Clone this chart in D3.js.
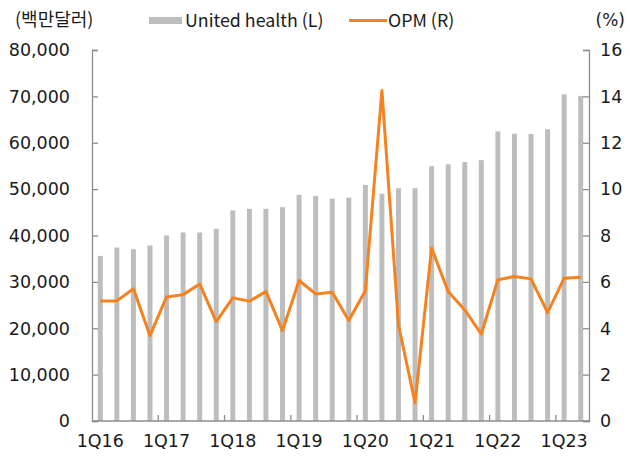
<!DOCTYPE html>
<html>
<head>
<meta charset="utf-8">
<script src="https://cdn.jsdelivr.net/npm/d3@7"></script>
<style>
  body { margin: 0; background: #fff; }
  text { font-family: "Noto Sans CJK KR", "Noto Sans", sans-serif; fill: #1a1a1a; }
  text.num { font-family: "DejaVu Sans", sans-serif; }
</style>
</head>
<body>
<div id="chart"></div>
<script>
// quarters 1Q16 .. 2Q23
const quarters = [
  "1Q16","2Q16","3Q16","4Q16","1Q17","2Q17","3Q17","4Q17",
  "1Q18","2Q18","3Q18","4Q18","1Q19","2Q19","3Q19","4Q19",
  "1Q20","2Q20","3Q20","4Q20","1Q21","2Q21","3Q21","4Q21",
  "1Q22","2Q22","3Q22","4Q22","1Q23","2Q23"
];
// revenue, USD mn (left axis)
const revenue = [
  35600, 37400, 37050, 37850, 40000, 40650, 40650, 41450,
  45400, 45750, 45750, 46100, 48750, 48500, 47950, 48150,
  50900, 49000, 50200, 50200, 54950, 55350, 55850, 56250,
  62450, 61950, 61900, 62900, 70450, 70100
];
// operating margin, % (right axis)
const opm = [
  5.18, 5.18, 5.70, 3.68, 5.35, 5.45, 5.91, 4.29,
  5.31, 5.17, 5.58, 3.90, 6.06, 5.48, 5.55, 4.33,
  5.62, 14.25, 4.14, 0.79, 7.45, 5.58, 4.79, 3.75,
  6.09, 6.23, 6.13, 4.67, 6.16, 6.20
];
const leftTicks = [0, 10000, 20000, 30000, 40000, 50000, 60000, 70000, 80000];
const rightTicks = [0, 2, 4, 6, 8, 10, 12, 14, 16];

const width = 630, height = 456;
const margin = { top: 50, right: 41, bottom: 35, left: 92 };
const axisColor = "#8c8c8c";
const barColor = "#bdbdbd";
const lineColor = "#f5821f";

const svg = d3.select("#chart").append("svg")
  .attr("width", width)
  .attr("height", height);

const x = d3.scaleBand()
  .domain(quarters)
  .range([margin.left, width - margin.right])
  .paddingInner(0.7)
  .paddingOuter(0.35);

const yL = d3.scaleLinear().domain([0, 80000]).range([height - margin.bottom, margin.top]);
const yR = d3.scaleLinear().domain([0, 16]).range([height - margin.bottom, margin.top]);

// bars
svg.append("g")
  .selectAll("rect")
  .data(quarters)
  .join("rect")
  .attr("x", d => x(d))
  .attr("width", x.bandwidth())
  .attr("y", (d, i) => yL(revenue[i]))
  .attr("height", (d, i) => yL(0) - yL(revenue[i]))
  .attr("fill", barColor);

// line
const line = d3.line()
  .x((d, i) => x(quarters[i]) + x.bandwidth() / 2)
  .y(d => yR(d));

svg.append("path")
  .datum(opm)
  .attr("d", line)
  .attr("fill", "none")
  .attr("stroke", lineColor)
  .attr("stroke-width", 3)
  .attr("stroke-linejoin", "round");

// y axes, ticks pointing inward
const gL = svg.append("g")
  .attr("transform", `translate(${margin.left},0)`)
  .call(d3.axisRight(yL).tickValues(leftTicks).tickSize(6).tickFormat(""));
const gR = svg.append("g")
  .attr("transform", `translate(${width - margin.right},0)`)
  .call(d3.axisLeft(yR).tickValues(rightTicks).tickSize(6).tickFormat(""));
[gL, gR].forEach(g => {
  g.select(".domain").attr("stroke", axisColor).attr("stroke-width", 1.3);
  g.selectAll(".tick line").attr("stroke", axisColor).attr("stroke-width", 1.3);
});

svg.append("g")
  .selectAll("text")
  .data(leftTicks)
  .join("text")
  .attr("class", "num")
  .attr("x", 70)
  .attr("y", d => yL(d))
  .attr("dy", "0.36em")
  .attr("text-anchor", "end")
  .attr("font-size", 17.5)
  .text(d => d3.format(",")(d));

svg.append("g")
  .selectAll("text")
  .data(rightTicks)
  .join("text")
  .attr("class", "num")
  .attr("x", 600)
  .attr("y", d => yR(d))
  .attr("dy", "0.36em")
  .attr("text-anchor", "start")
  .attr("font-size", 17.5)
  .text(d => d);

// bottom axis: ticks between categories every 4 quarters
const step = x.step();
const x0 = margin.left;
const bottomY = height - margin.bottom;
svg.append("line")
  .attr("x1", margin.left).attr("x2", width - margin.right)
  .attr("y1", bottomY).attr("y2", bottomY)
  .attr("stroke", axisColor).attr("stroke-width", 1.3);

const tickIdx = d3.range(4, quarters.length, 4);
svg.append("g")
  .selectAll("line")
  .data(tickIdx)
  .join("line")
  .attr("x1", i => x0 + i * step)
  .attr("x2", i => x0 + i * step)
  .attr("y1", bottomY)
  .attr("y2", bottomY - 6)
  .attr("stroke", axisColor)
  .attr("stroke-width", 1.3);

svg.append("g")
  .selectAll("text")
  .data(quarters.filter((q, i) => i % 4 === 0))
  .join("text")
  .attr("class", "num")
  .attr("x", d => x(d) + x.bandwidth() / 2)
  .attr("y", bottomY + 26)
  .attr("text-anchor", "middle")
  .attr("font-size", 17.5)
  .text(d => d);

// unit labels
svg.append("text").attr("x", 15).attr("y", 26).attr("font-size", 18).text("(백만달러)");
svg.append("text").attr("class", "num").attr("x", 625).attr("y", 26).attr("text-anchor", "end").attr("font-size", 17).text("(%)");

// legend
svg.append("rect").attr("x", 149).attr("y", 17).attr("width", 33).attr("height", 7).attr("fill", barColor);
svg.append("text").attr("x", 185).attr("y", 27).attr("font-size", 17.8).text("United health (L)");
svg.append("line").attr("x1", 349).attr("x2", 387).attr("y1", 20.5).attr("y2", 20.5)
  .attr("stroke", lineColor).attr("stroke-width", 3);
svg.append("text").attr("x", 388).attr("y", 27).attr("font-size", 17.8).text("OPM (R)");
</script>
</body>
</html>
